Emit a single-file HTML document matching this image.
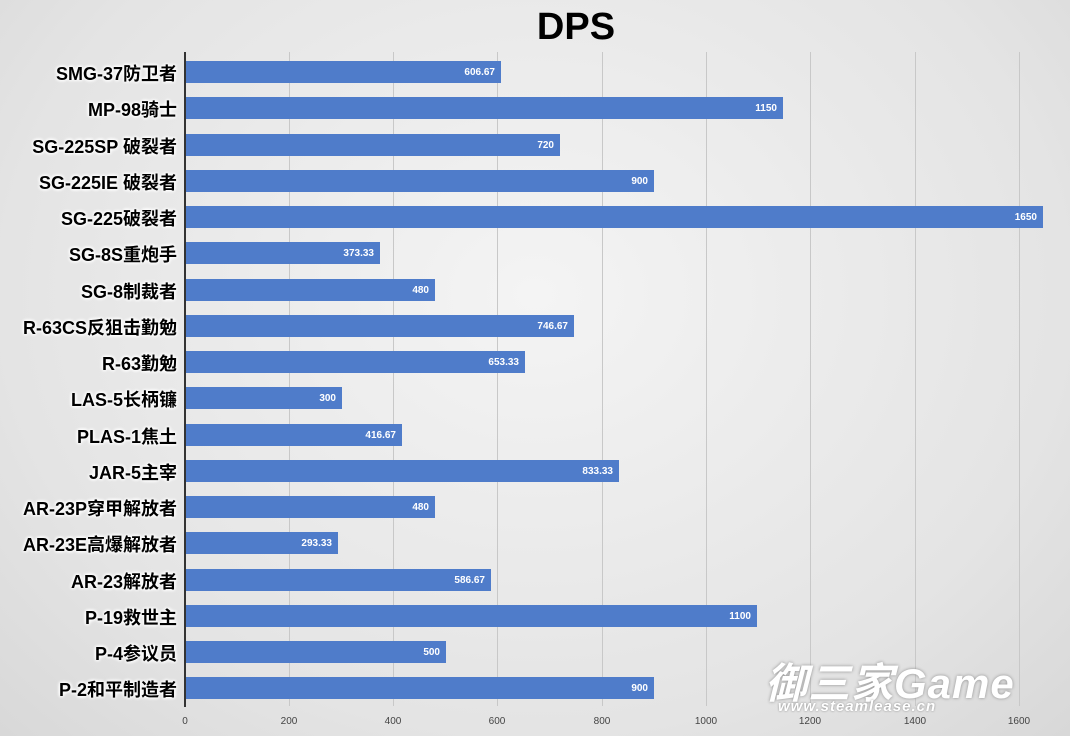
<!DOCTYPE html>
<html><head><meta charset="utf-8"><style>
body{margin:0;width:1070px;height:736px;overflow:hidden;background:radial-gradient(ellipse at 50% 40%,#f4f4f4 0%,#e4e4e4 70%,#d8d8d8 100%);font-family:"Liberation Sans","Noto Sans CJK SC",sans-serif;position:relative}
.t{position:absolute;top:6px;left:0;width:1152px;text-align:center;font-size:38px;font-weight:bold;color:#000}
.g{position:absolute;top:52px;height:654px;width:1px;background:#c8c8c8}
.ax{position:absolute;left:184px;top:52px;height:655px;width:2px;background:#333}
.bar{position:absolute;left:186px;height:22px;background:#4f7cca}
.v{position:absolute;right:6px;top:6px;font-size:10px;font-weight:bold;color:#fff}
.l{position:absolute;right:893px;font-size:18px;font-weight:bold;color:#000;white-space:nowrap;text-shadow:0 0 3px #fff,0 0 3px #fff,0 0 4px #fff,0 0 4px #fff}
.k{position:absolute;top:716px;font-size:10px;color:#444;width:40px;margin-left:-20px;text-align:center}
.wm{position:absolute;left:765px;top:650px;font-size:42px;font-weight:bold;font-style:italic;color:#fff;text-shadow:0 0 3px #888;letter-spacing:1px}
.wm2{position:absolute;left:778px;top:698px;font-size:15px;font-weight:bold;font-style:italic;color:#fff;text-shadow:0 0 2px #888;letter-spacing:1px}
</style></head><body>
<div class="t">DPS</div>
<div class="g" style="left:289px"></div><div class="g" style="left:393px"></div><div class="g" style="left:497px"></div><div class="g" style="left:602px"></div><div class="g" style="left:706px"></div><div class="g" style="left:810px"></div><div class="g" style="left:915px"></div><div class="g" style="left:1019px"></div>
<div class="ax"></div>
<div id="c"></div>
<div class="k" style="left:185px">0</div><div class="k" style="left:289px">200</div><div class="k" style="left:393px">400</div><div class="k" style="left:497px">600</div><div class="k" style="left:602px">800</div><div class="k" style="left:706px">1000</div><div class="k" style="left:810px">1200</div><div class="k" style="left:915px">1400</div><div class="k" style="left:1019px">1600</div>
<div class="wm">御三家Game</div>
<div class="wm2">www.steamlease.cn</div>
<script>
var d=[["SMG-37防卫者",606.67],["MP-98骑士",1150],["SG-225SP 破裂者",720],["SG-225IE 破裂者",900],["SG-225破裂者",1650],["SG-8S重炮手",373.33],["SG-8制裁者",480],["R-63CS反狙击勤勉",746.67],["R-63勤勉",653.33],["LAS-5长柄镰",300],["PLAS-1焦土",416.67],["JAR-5主宰",833.33],["AR-23P穿甲解放者",480],["AR-23E高爆解放者",293.33],["AR-23解放者",586.67],["P-19救世主",1100],["P-4参议员",500],["P-2和平制造者",900]];
var h="";d.forEach(function(r,i){var y=61+i*36.25;var w=Math.round(r[1]*0.5195);
h+='<div class="bar" style="top:'+y+'px;width:'+w+'px"><span class="v">'+r[1]+'</span></div>';
h+='<div class="l" style="top:'+(y-1)+'px">'+r[0]+'</div>';});
document.getElementById("c").innerHTML=h;
</script>
</body></html>
